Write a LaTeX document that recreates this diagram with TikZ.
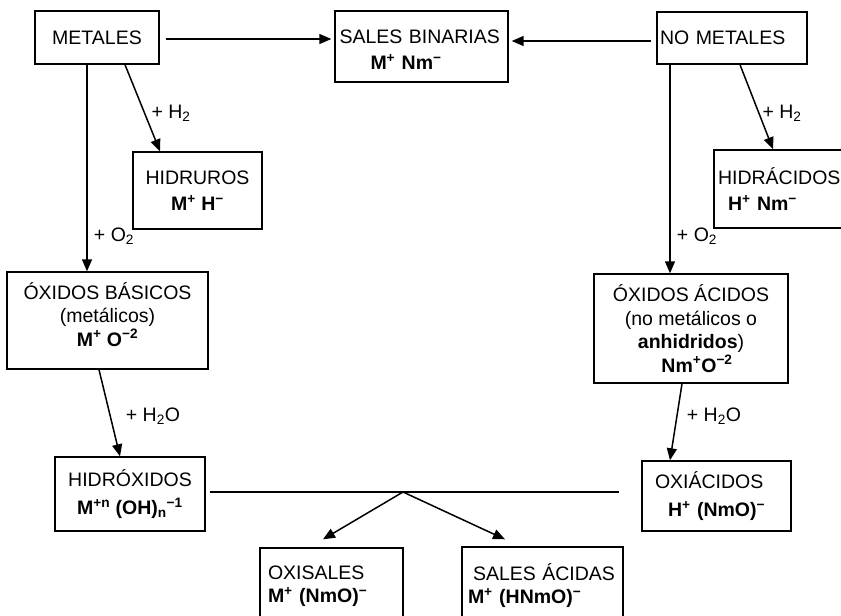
\documentclass[tikz,border=0pt]{standalone}
\usepackage{fontspec}
\setmainfont{Liberation Sans}
\usetikzlibrary{arrows.meta,calc}

\begin{document}
\begin{tikzpicture}[x=1pt,y=-1pt]
\tikzset{ >={Triangle[length=12pt,width=10pt]},
  every node/.style={font=\fontsize{19.5}{23.5}\selectfont, inner sep=0pt},
  caja/.style={draw, line width=1.4pt, align=center},
  izq/.style={caja, align=left},
  flecha/.style={->, line width=1.5pt},
  linea/.style={line width=1.5pt},
}

\useasboundingbox (0,0) rectangle (841,616);
\clip (0,0) rectangle (841,616);

% cajas
\node [caja, minimum width=124pt, minimum height=53pt] (metales) at (97,37.5) {METALES};
\node [izq, minimum width=173pt, minimum height=71pt, text width=164pt, text height=20pt] (binarias) at (421.5,46.5)
  {SALES BINARIAS\\[3pt]\hspace*{31pt}\textbf{M\textsuperscript{+} Nm\textsuperscript{−}}};
\node [izq, minimum width=150pt, minimum height=52pt, text width=144pt] (nometales) at (732,38) {NO METALES};

\node [caja, minimum width=129pt, minimum height=77pt] (hidruros) at (197.5,190.5)
  {HIDRUROS\\[3pt]\textbf{M\textsuperscript{+} H\textsuperscript{−}}};
\node [izq, minimum width=132pt, minimum height=78pt, text width=124pt] (hidracidos) at (780,189)
  {HIDRÁCIDOS\\[3pt]\hspace*{10pt}\textbf{H\textsuperscript{+} Nm\textsuperscript{−}}};

\node [caja, minimum width=201pt, minimum height=97pt, text depth=12pt] (basicos) at (107.5,320.5)
  {ÓXIDOS BÁSICOS\\(metálicos)\\\textbf{M\textsuperscript{+} O\textsuperscript{−2}}};
\node [caja, minimum width=194pt, minimum height=109pt] (acidos) at (691,328.5)
  {ÓXIDOS ÁCIDOS\\(no metálicos o\\\textbf{anhidridos})\\\hspace*{12pt}\textbf{Nm\textsuperscript{+}O\textsuperscript{−2}}};

\node [caja, minimum width=150pt, minimum height=74pt] (hidroxidos) at (130,494)
  {HIDRÓXIDOS\\[5pt]\textbf{M\textsuperscript{+n} (OH)\textsubscript{n}\textsuperscript{−1}}};
\node [izq, minimum width=149pt, minimum height=70pt, text width=123pt] (oxiacidos) at (716.5,496)
  {OXIÁCIDOS\\[5pt]\hspace*{13pt}\textbf{H\textsuperscript{+} (NmO)\textsuperscript{−}}};

\node [izq, minimum width=143pt, minimum height=76pt, text width=127pt] (oxisales) at (331.5,586)
  {OXISALES\\\textbf{M\textsuperscript{+} (NmO)\textsuperscript{−}}};
\node [izq, minimum width=161pt, minimum height=77pt, text width=149pt] (acidas) at (542.5,585.5)
  {\hspace*{5pt}SALES ÁCIDAS\\\textbf{M\textsuperscript{+} (HNmO)\textsuperscript{−}}};

\coordinate (cruce) at (403,492);

% flechas
\draw [flecha] ($(metales.east)+(6,1.5)$) -- ($(metales.east -| binarias.west)+(-3,1.5)$);
\draw [flecha] ($(nometales.west)+(-5,3)$) -- ($(nometales.west -| binarias.east)+(3,3)$);
\draw [flecha] ($(metales.south)+(28,0)$) -- ($(hidruros.north)+(-37.5,0)$);
\draw [flecha] ($(metales.south)+(-10,0)$) -- ($(basicos.north -| metales.south)+(-10,0)$);
\draw [flecha] ($(nometales.south)+(8,0)$) -- ($(hidracidos.north)+(-7,0)$);
\draw [flecha] ($(nometales.south)+(-62,0)$) -- ($(acidos.north -| nometales.south)+(-62,0)$);
\draw [flecha] ($(basicos.south)+(-8.5,0)$) -- ($(hidroxidos.north)+(-10,0)$);
\draw [flecha] ($(acidos.south)+(-9,0)$) -- ($(oxiacidos.north)+(-46.5,0)$);

\draw [linea] ($(hidroxidos.east)+(4,-2)$) -- ($(oxiacidos.west)+(-22,-4)$);
\draw [flecha] (cruce) -- ($(oxisales.north)+(-8.5,-8)$);
\draw [flecha] (cruce) -- ($(acidas.north)+(-37.5,-7)$);

% reactivos
\node (h2met) at (171,113) {+ H\textsubscript{2}};
\node (h2nomet) at (782,113) {+ H\textsubscript{2}};
\node (o2met) at (114,236) {+ O\textsubscript{2}};
\node (o2nomet) at (697,236) {+ O\textsubscript{2}};
\node (aguabas) at (153,416) {+ H\textsubscript{2}O};
\node (aguaac) at (714,416) {+ H\textsubscript{2}O};

\end{tikzpicture}
\end{document}
